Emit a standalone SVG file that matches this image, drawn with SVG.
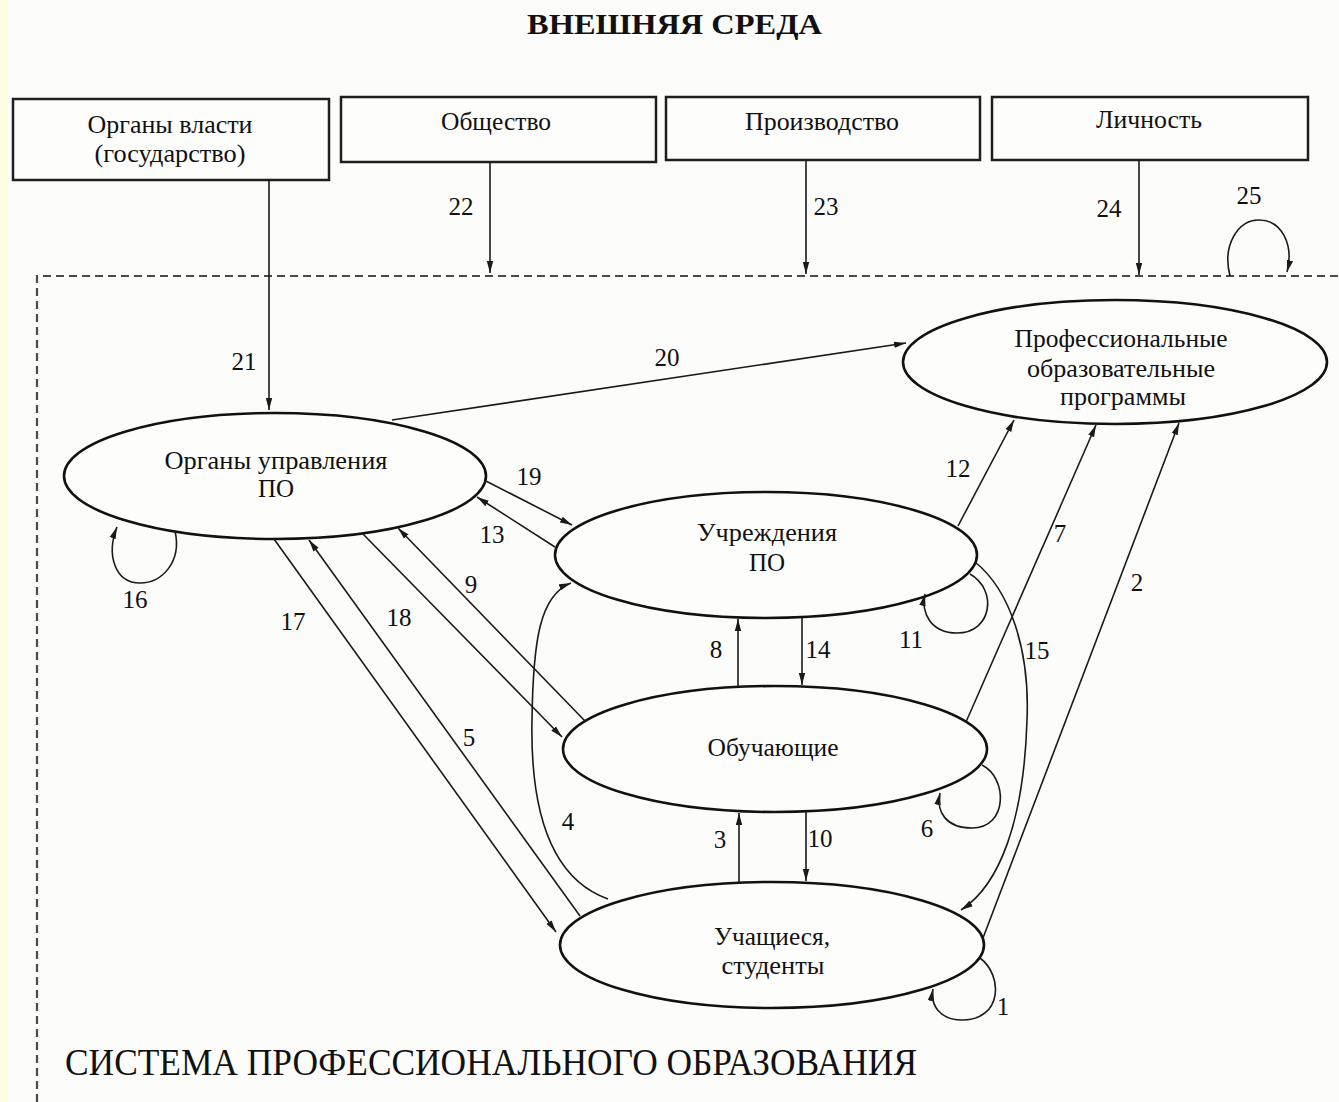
<svg xmlns="http://www.w3.org/2000/svg" width="1339" height="1102" viewBox="0 0 1339 1102">
<style>
.bg{fill:#fcfcfa}
.box{fill:#fdfdfc;stroke:#1e1e1e;stroke-width:2.5}
.ell{fill:#fdfdfc;stroke:#111;stroke-width:2.6}
.t{font-family:"Liberation Serif","Times New Roman",serif;font-size:25px;fill:#111;text-anchor:middle}
.n{font-family:"Liberation Serif","Times New Roman",serif;font-size:25px;fill:#111;text-anchor:middle}
.c{fill:none;stroke:#1a1a1a;stroke-width:1.6}
.dash{fill:none;stroke:#4a4a4a;stroke-width:2.2;stroke-dasharray:8 5}
</style>
<defs>
<marker id="ah" viewBox="0 0 12 8" refX="12" refY="4" markerWidth="12" markerHeight="8" markerUnits="userSpaceOnUse" orient="auto">
<path d="M0,0.8 L12,4 L0,7.2 z" fill="#1a1a1a"/>
</marker>
</defs>
<rect class="bg" x="0" y="0" width="1339" height="1102"/>
<rect x="0" y="0" width="7" height="1102" fill="#fffde2"/>

<text x="674.5" y="34" font-family="'Liberation Serif','Times New Roman',serif" font-size="30" font-weight="bold" text-anchor="middle" fill="#111" textLength="295" lengthAdjust="spacingAndGlyphs">ВНЕШНЯЯ СРЕДА</text>

<g id="system-border">
<path class="dash" d="M37 1102 L37 276 L1339 276"/>
</g>

<g id="node-organy-vlasti">
<rect class="box" x="13" y="99" width="316" height="81"/>
<text class="t" x="170" y="133" textLength="165" lengthAdjust="spacingAndGlyphs">Органы власти</text>
<text class="t" x="170" y="162" textLength="151" lengthAdjust="spacingAndGlyphs">(государство)</text>
</g>
<g id="node-obshchestvo">
<rect class="box" x="341" y="97" width="315" height="65"/>
<text class="t" x="496" y="130" textLength="110" lengthAdjust="spacingAndGlyphs">Общество</text>
</g>
<g id="node-proizvodstvo">
<rect class="box" x="666" y="97" width="314" height="63"/>
<text class="t" x="822" y="130" textLength="154" lengthAdjust="spacingAndGlyphs">Производство</text>
</g>
<g id="node-lichnost">
<rect class="box" x="992" y="97" width="316" height="63"/>
<text class="t" x="1149" y="128" textLength="106" lengthAdjust="spacingAndGlyphs">Личность</text>
</g>

<g id="node-organy-upravleniya">
<ellipse class="ell" cx="275" cy="476" rx="211" ry="63"/>
<text class="t" x="276" y="469" textLength="223" lengthAdjust="spacingAndGlyphs">Органы управления</text>
<text class="t" x="276" y="497">ПО</text>
</g>
<g id="node-programmy">
<ellipse class="ell" cx="1115" cy="362" rx="212" ry="62"/>
<text class="t" x="1121" y="347" textLength="213" lengthAdjust="spacingAndGlyphs">Профессиональные</text>
<text class="t" x="1121" y="377" textLength="188" lengthAdjust="spacingAndGlyphs">образовательные</text>
<text class="t" x="1123" y="405" textLength="126" lengthAdjust="spacingAndGlyphs">программы</text>
</g>
<g id="node-uchrezhdeniya">
<ellipse class="ell" cx="766" cy="555" rx="211" ry="63"/>
<text class="t" x="767" y="541" textLength="140" lengthAdjust="spacingAndGlyphs">Учреждения</text>
<text class="t" x="767" y="571">ПО</text>
</g>
<g id="node-obuchayushchie">
<ellipse class="ell" cx="775" cy="749" rx="212" ry="63"/>
<text class="t" x="773" y="756" textLength="131" lengthAdjust="spacingAndGlyphs">Обучающие</text>
</g>
<g id="node-uchashchiesya">
<ellipse class="ell" cx="772" cy="945" rx="212" ry="63"/>
<text class="t" x="772" y="945" textLength="116" lengthAdjust="spacingAndGlyphs">Учащиеся,</text>
<text class="t" x="773" y="974" textLength="103" lengthAdjust="spacingAndGlyphs">студенты</text>
</g>

<g id="connectors">
<path class="c" marker-end="url(#ah)" d="M269 180 L269 410"/>
<path class="c" marker-end="url(#ah)" d="M490 163 L490 273"/>
<path class="c" marker-end="url(#ah)" d="M806 161 L806 274"/>
<path class="c" marker-end="url(#ah)" d="M1139 161 L1139 275"/>
<path class="c" marker-end="url(#ah)" d="M1230 276 C1222 245 1238 220 1259 220 C1282 220 1294 245 1287 272"/>
<path class="c" marker-end="url(#ah)" d="M392 420 L906 343"/>
<path class="c" marker-end="url(#ah)" d="M484 480 L572 525"/>
<path class="c" marker-end="url(#ah)" d="M555 547 L477 497"/>
<path class="c" marker-end="url(#ah)" d="M585 721 L398 528"/>
<path class="c" marker-end="url(#ah)" d="M362 533 L562 737"/>
<path class="c" marker-end="url(#ah)" d="M274 539 L556 932"/>
<path class="c" marker-end="url(#ah)" d="M580 916 L309 540"/>
<path class="c" marker-end="url(#ah)" d="M175 531 C182 562 162 583 140 583 C115 583 106 555 117 527"/>
<path class="c" marker-end="url(#ah)" d="M608 899 C555 880 530 820 532 720 C533 640 540 595 571 583"/>
<path class="c" marker-end="url(#ah)" d="M975 562 C1010 590 1030 650 1027 720 C1024 820 1000 885 961 910"/>
<path class="c" marker-end="url(#ah)" d="M958 526 L1014 420"/>
<path class="c" marker-end="url(#ah)" d="M966 722 L1096 425"/>
<path class="c" marker-end="url(#ah)" d="M983 938 L1179 423"/>
<path class="c" marker-end="url(#ah)" d="M970 574 C998 590 992 633 957 633 C930 633 921 612 925 594"/>
<path class="c" marker-end="url(#ah)" d="M738 687 L738 619"/>
<path class="c" marker-end="url(#ah)" d="M802 618 L802 685"/>
<path class="c" marker-end="url(#ah)" d="M739 883 L739 813"/>
<path class="c" marker-end="url(#ah)" d="M806 812 L806 881"/>
<path class="c" marker-end="url(#ah)" d="M982 765 C1008 778 1008 828 972 828 C946 828 936 812 940 793"/>
<path class="c" marker-end="url(#ah)" d="M980 958 C1003 975 1003 1020 962 1020 C940 1020 930 1005 933 989"/>
</g>

<g id="connector-labels">
<text class="n" x="244" y="370">21</text>
<text class="n" x="461" y="215">22</text>
<text class="n" x="826" y="215">23</text>
<text class="n" x="1109" y="217">24</text>
<text class="n" x="1249" y="204">25</text>
<text class="n" x="667" y="366">20</text>
<text class="n" x="529" y="485">19</text>
<text class="n" x="492" y="543">13</text>
<text class="n" x="135" y="608">16</text>
<text class="n" x="293" y="630">17</text>
<text class="n" x="399" y="626">18</text>
<text class="n" x="471" y="593">9</text>
<text class="n" x="958" y="477">12</text>
<text class="n" x="1060" y="542">7</text>
<text class="n" x="1137" y="591">2</text>
<text class="n" x="911" y="648">11</text>
<text class="n" x="1037" y="659">15</text>
<text class="n" x="716" y="658">8</text>
<text class="n" x="818" y="658">14</text>
<text class="n" x="720" y="848">3</text>
<text class="n" x="820" y="847">10</text>
<text class="n" x="927" y="837">6</text>
<text class="n" x="568" y="830">4</text>
<text class="n" x="469" y="746">5</text>
<text class="n" x="1003" y="1015">1</text>
</g>

<text x="65" y="1075" font-family="'Liberation Serif','Times New Roman',serif" font-size="37" fill="#111" textLength="852" lengthAdjust="spacingAndGlyphs">СИСТЕМА ПРОФЕССИОНАЛЬНОГО ОБРАЗОВАНИЯ</text>
</svg>
